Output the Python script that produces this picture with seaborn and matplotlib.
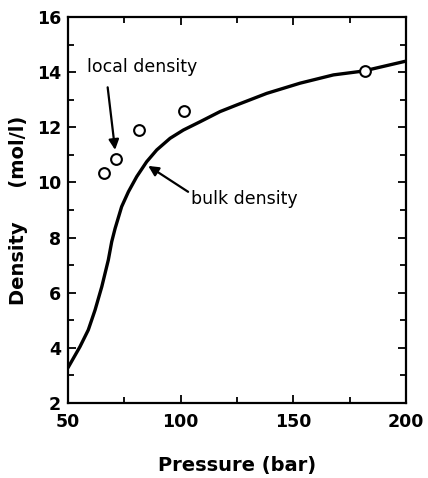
import matplotlib
matplotlib.use("Agg")
import matplotlib.pyplot as plt
import seaborn as sns
import pandas as pd
from matplotlib.ticker import MultipleLocator

sns.set_style("ticks")
plt.rcParams['font.family'] = ['DejaVu Sans']
plt.rcParams['text.color'] = 'black'
plt.rcParams['axes.labelcolor'] = 'black'

# bulk density curve
bulk_pressure = [50, 55.3, 59.0, 62.0, 65.0, 67.9, 69.4, 70.9, 73.8, 76.8, 80.5,
                 84.9, 89.4, 95.3, 101.2, 108.6, 117.5, 124.9, 138.2, 153.0,
                 167.8, 181.1, 200]
bulk_density = [3.28, 4.04, 4.65, 5.37, 6.22, 7.19, 7.85, 8.33, 9.12, 9.66, 10.21,
                10.75, 11.18, 11.60, 11.90, 12.20, 12.57, 12.81, 13.23, 13.60,
                13.90, 14.04, 14.40]

# local density points
local_pressure = [66.0, 71.3, 81.3, 101.4, 181.7]
local_density = [10.33, 10.84, 11.90, 12.59, 14.03]

bulk = pd.DataFrame({"Pressure": bulk_pressure, "Density": bulk_density})
local = pd.DataFrame({"Pressure": local_pressure, "Density": local_density})

fig = plt.figure(figsize=(4.28, 4.78), dpi=100)
ax = fig.add_axes([68/428, 1-403/478, (406-68)/428, (403-17)/478])

sns.lineplot(data=bulk, x="Pressure", y="Density", ax=ax, color="black",
             linewidth=2.4, zorder=2)
sns.scatterplot(data=local, x="Pressure", y="Density", ax=ax, s=60,
                facecolor="white", edgecolor="black", linewidth=1.5, zorder=3)

ax.set_xlim(50, 200)
ax.set_ylim(2, 16)
ax.xaxis.set_major_locator(MultipleLocator(50))
ax.xaxis.set_minor_locator(MultipleLocator(25))
ax.yaxis.set_major_locator(MultipleLocator(2))
ax.yaxis.set_minor_locator(MultipleLocator(1))
ax.tick_params(which="both", direction="in", top=True, right=True, width=1.3,
               colors="black", labelcolor="black")
ax.tick_params(which="major", length=6)
ax.tick_params(which="minor", length=4)
ax.tick_params(axis="x", pad=7, labelsize=12.5)
ax.tick_params(axis="y", pad=5, labelsize=12.5)
for lab in ax.get_xticklabels() + ax.get_yticklabels():
    lab.set_fontweight("bold")
for sp in ax.spines.values():
    sp.set_visible(True)
    sp.set_linewidth(1.6)
    sp.set_color("black")

ax.set_xlabel("Pressure (bar)", fontsize=14, fontweight="bold", labelpad=18)
ax.set_ylabel("Density     (mol/l)", fontsize=14, fontweight="bold", labelpad=6)

ax.text(82.8, 14.2, "local density", ha="center", va="center", fontsize=12.5,
        color="black")
ax.annotate("", xy=(70.9, 11.18), xytext=(67.6, 13.45),
            arrowprops=dict(arrowstyle="-|>", color="black", lw=1.6,
                            mutation_scale=15, shrinkA=0, shrinkB=0))
ax.text(128.3, 9.4, "bulk density", ha="center", va="center", fontsize=12.5,
        color="black")
ax.annotate("", xy=(85.6, 10.6), xytext=(103.3, 9.66),
            arrowprops=dict(arrowstyle="-|>", color="black", lw=1.6,
                            mutation_scale=15, shrinkA=0, shrinkB=0))

fig.savefig("out.png", dpi=100)
